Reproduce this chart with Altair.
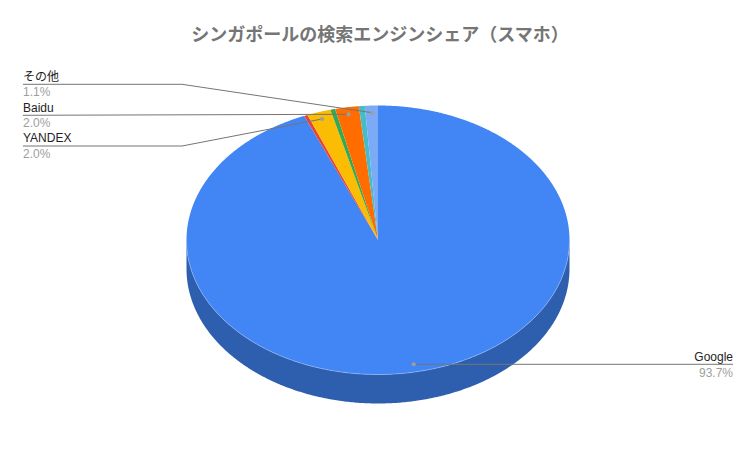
import math
import altair as alt
import pandas as pd

# Slices, clockwise from 12 o'clock
slice_names = ["Google", "slice2", "YANDEX", "slice4", "Baidu", "slice6", "その他"]
slice_values = [93.7, 0.3, 2.0, 0.4, 2.0, 0.5, 1.1]
slice_colors = ["#4285f4", "#ea4335", "#fbbc04", "#34a853", "#ff6d01", "#46bdc6", "#7baaf7"]
wall_color = "#2e5fae"
rim_color = "#9dbdf3"

title_text = "シンガポールの検索エンジンシェア（スマホ）"

# Pie geometry in picture pixels
CX, CY, RX, RY, DEPTH = 378.0, 240.0, 191.5, 134.5, 29.0
W, H, M = 740, 453, 8

# Leader lines: (group, x, y)
leaders = {
    "その他": [(23, 84.3), (182, 84.3), (372, 112.7)],
    "Baidu": [(23, 115.3), (348.7, 114.3)],
    "YANDEX": [(23, 146), (182, 146), (322, 119)],
    "Google": [(733, 364.3), (413.7, 364.3)],
}
# Text rows: (x, y, text)
name_rows = [(23, 81, "その他"), (23, 112, "Baidu"), (23, 142, "YANDEX"), (733, 361, "Google")]
pct_rows = [(23, 96, "1.1%"), (23, 127, "2.0%"), (23, 158, "2.0%"), (733, 377, "93.7%")]


def ell(frac):
    a = 2 * math.pi * frac
    return CX + RX * math.sin(a), CY - RY * math.cos(a)


def polygon(f0, f1):
    n = max(4, int((f1 - f0) * 720))
    pts = [(CX, CY)] + [ell(f0 + (f1 - f0) * k / n) for k in range(n + 1)]
    return pts


def span(pts, x):
    ys = []
    for k in range(len(pts)):
        (x0, y0), (x1, y1) = pts[k], pts[(k + 1) % len(pts)]
        if min(x0, x1) <= x <= max(x0, x1) and x0 != x1:
            ys.append(y0 + (y1 - y0) * (x - x0) / (x1 - x0))
    return (min(ys), max(ys)) if ys else None


rows = []
cum = 0.0
total = sum(slice_values)
for name, v in zip(slice_names, slice_values):
    f0, f1 = cum / total, (cum + v) / total
    cum += v
    pts = polygon(f0, f1)
    xs_ = sorted({round(p[0], 6) for p in pts})
    for x in xs_:
        for dx in (-1e-4, 1e-4):
            s = span(pts, x + dx)
            if s:
                rows.append({"name": name, "x": x + dx, "top": s[0], "bot": s[1]})

slices = pd.DataFrame(rows)

wall_rows = []
rim_rows = []
for k in range(0, 361):
    a = math.pi * k / 360
    x = CX - RX * math.cos(a)
    y = CY + RY * math.sin(a)
    wall_rows.append({"x": x, "top": y, "bot": y + DEPTH})
    rim_rows.append({"i": k, "x": x, "y": y})
wall = pd.DataFrame(wall_rows)
rim = pd.DataFrame(rim_rows)

xs = alt.Scale(domain=[M, M + W], nice=False, zero=False)
ys = alt.Scale(domain=[M + H, M], nice=False, zero=False)
X = alt.X("x:Q", scale=xs, axis=None)
Y = alt.Y("y:Q", scale=ys, axis=None)
YT = alt.Y("top:Q", scale=ys, axis=None)
Y2 = alt.Y2("bot:Q")

wall_layer = alt.Chart(wall).mark_area(color=wall_color, orient="vertical").encode(
    x=X, y=YT, y2=Y2)

slice_layer = alt.Chart(slices).mark_area(orient="vertical").encode(
    x=X, y=YT, y2=Y2,
    color=alt.Color("name:N", legend=None,
                    scale=alt.Scale(domain=slice_names, range=slice_colors)))

rim_layer = alt.Chart(rim).mark_line(color=rim_color, strokeWidth=0.6).encode(
    x=X, y=Y, order="i:Q")

lead_rows = []
dot_rows = []
for g, p in leaders.items():
    for j, (x, y) in enumerate(p):
        lead_rows.append({"g": g, "i": j, "x": x, "y": y})
    dot_rows.append({"x": p[-1][0], "y": p[-1][1]})

lead_layer = alt.Chart(pd.DataFrame(lead_rows)).mark_line(color="#757575", strokeWidth=1).encode(
    x=X, y=Y, detail="g:N", order="i:Q")
dot_layer = alt.Chart(pd.DataFrame(dot_rows)).mark_circle(color="#9e9e9e", size=16, opacity=1).encode(x=X, y=Y)

FONT = "Liberation Sans, Noto Sans CJK JP"


def text_layer(rows_, color):
    df = pd.DataFrame([{"x": a, "y": b, "t": c, "al": "right" if a > 400 else "left"} for a, b, c in rows_])
    out = []
    for al, sub in df.groupby("al"):
        out.append(alt.Chart(sub).mark_text(font=FONT, fontSize=12, align=al, baseline="alphabetic", color=color)
                   .encode(x=X, y=Y, text="t:N"))
    return out


title_layer = alt.Chart(pd.DataFrame([{"x": 380, "y": 41, "t": title_text}])).mark_text(
    font="Noto Sans CJK JP", fontSize=18, fontWeight="bold", align="center",
    baseline="alphabetic", color="#757575").encode(x=X, y=Y, text="t:N")

chart = alt.layer(
    wall_layer, slice_layer, rim_layer, lead_layer, dot_layer,
    *text_layer(name_rows, "#222222"), *text_layer(pct_rows, "#9e9e9e"), title_layer
).properties(width=W, height=H, padding=0, autosize=alt.AutoSizeParams(type="none")).configure_view(stroke=None)

chart.save("out.html", embed_options={"renderer": "svg", "actions": False})
